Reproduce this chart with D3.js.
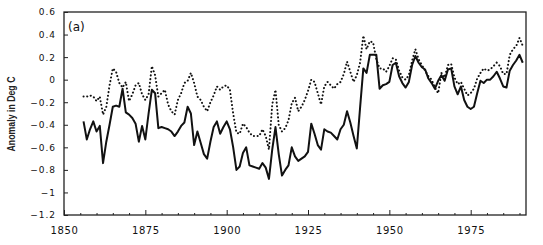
<!DOCTYPE html>
<html>
<head>
<meta charset="utf-8">
<script src="https://cdn.jsdelivr.net/npm/d3@7"></script>
<style>
  body { margin: 0; background: #fff; }
  svg { display: block; }
  .tick text { font-family: "DejaVu Sans", sans-serif; fill: #111; }
</style>
</head>
<body>
<div id="chart"></div>
<script>
// annual anomalies (deg C)
var years = d3.range(1856, 1992);
var solidValues = [
  -0.37,-0.53,-0.44,-0.37,-0.46,-0.41,-0.74,-0.55,-0.40,-0.24,
  -0.23,-0.24,-0.08,-0.29,-0.31,-0.34,-0.39,-0.55,-0.41,-0.53,
  -0.30,-0.09,-0.12,-0.43,-0.42,-0.43,-0.44,-0.46,-0.50,-0.46,
  -0.41,-0.38,-0.24,-0.30,-0.58,-0.46,-0.56,-0.66,-0.70,-0.55,
  -0.42,-0.37,-0.48,-0.42,-0.37,-0.44,-0.60,-0.80,-0.77,-0.65,
  -0.60,-0.76,-0.77,-0.78,-0.79,-0.74,-0.78,-0.88,-0.62,-0.42,
  -0.66,-0.85,-0.80,-0.76,-0.60,-0.68,-0.72,-0.70,-0.68,-0.64,
  -0.39,-0.48,-0.58,-0.62,-0.44,-0.46,-0.47,-0.50,-0.53,-0.44,
  -0.40,-0.28,-0.38,-0.50,-0.61,-0.25,0.10,0.06,0.22,0.22,
  0.22,-0.08,-0.05,-0.04,-0.02,0.13,0.15,0.03,-0.03,-0.07,
  -0.02,0.13,0.21,0.15,0.11,0.09,0.01,-0.03,-0.08,-0.01,
  0.04,-0.01,0.09,0.10,-0.06,-0.13,-0.06,-0.18,-0.24,-0.26,
  -0.24,-0.12,-0.01,-0.03,0.00,0.00,0.03,0.07,0.01,-0.06,
  -0.07,0.08,0.13,0.17,0.22,0.15
];
var dottedValues = [
  -0.15,-0.15,-0.14,-0.15,-0.19,-0.15,-0.31,-0.24,-0.05,0.10,
  0.07,-0.03,-0.07,-0.02,-0.19,-0.13,-0.05,-0.03,-0.13,-0.18,
  -0.13,0.12,0.04,-0.15,-0.12,-0.09,-0.22,-0.28,-0.31,-0.18,
  -0.12,-0.03,-0.01,0.06,-0.03,-0.15,-0.18,-0.24,-0.28,-0.20,
  -0.14,-0.06,-0.09,-0.06,-0.05,-0.09,-0.30,-0.47,-0.48,-0.39,
  -0.42,-0.47,-0.50,-0.50,-0.50,-0.44,-0.50,-0.62,-0.22,-0.09,
  -0.40,-0.46,-0.43,-0.36,-0.21,-0.16,-0.28,-0.24,-0.18,-0.10,
  0.00,-0.02,-0.12,-0.22,-0.06,-0.02,-0.05,-0.08,-0.04,-0.02,
  0.05,0.16,0.07,-0.02,0.04,0.15,0.39,0.27,0.34,0.33,
  0.18,0.10,0.10,0.07,0.12,0.19,0.18,0.08,0.02,0.00,
  0.04,0.17,0.27,0.18,0.13,0.08,0.03,0.00,-0.07,-0.12,
  0.06,0.02,0.13,0.14,0.02,-0.04,-0.02,-0.08,-0.14,-0.12,
  -0.08,0.01,0.06,0.10,0.08,0.09,0.12,0.15,0.12,0.05,
  0.05,0.22,0.27,0.30,0.37,0.30
];
var xTicks = [1850, 1875, 1900, 1925, 1950, 1975];
var yTicks = [0.6, 0.4, 0.2, 0, -0.2, -0.4, -0.6, -0.8, -1, -1.2];
var yTickLabels = ["0.6","0.4","0.2","0","\u22120.2","\u22120.4","\u22120.6","\u22120.8","\u22121","\u22121.2"];

var w = 543, h = 245;
var plotLeft = 64, plotRight = 526, plotTop = 12, plotBottom = 215;

var svg = d3.select("#chart").append("svg")
    .attr("width", w).attr("height", h);

var xScale = d3.scaleLinear().domain([1850, 1992]).range([plotLeft, plotRight]);
var yScale = d3.scaleLinear().domain([-1.2, 0.6]).range([plotBottom, plotTop]);

// frame
svg.append("rect")
    .attr("x", plotLeft).attr("y", plotTop)
    .attr("width", plotRight - plotLeft).attr("height", plotBottom - plotTop)
    .attr("fill", "none").attr("stroke", "#222").attr("stroke-width", 1.3);

// minor x ticks every 5 years
var minorX = d3.range(1855, 1992, 5).filter(function(y){ return y % 25 != 0; });
svg.append("g")
    .attr("transform", "translate(0," + plotBottom + ")")
    .call(d3.axisBottom(xScale).tickValues(minorX).tickSize(-2).tickFormat(""))
    .call(function(g){ g.select(".domain").remove(); g.selectAll("line").attr("stroke", "#222"); });

var xAxis = d3.axisBottom(xScale)
    .tickValues(xTicks)
    .tickSize(-5)
    .tickPadding(12)
    .tickFormat(d3.format("d"));
svg.append("g")
    .attr("transform", "translate(0," + plotBottom + ")")
    .call(xAxis)
    .call(function(g){
      g.select(".domain").remove();
      g.selectAll("line").attr("stroke", "#222");
      g.selectAll("text").attr("font-size", 10).attr("letter-spacing", 0.6);
    });

var yAxis = d3.axisLeft(yScale)
    .tickValues(yTicks)
    .tickSize(-4)
    .tickPadding(8)
    .tickFormat(function(d, i){ return yTickLabels[i]; });
svg.append("g")
    .attr("transform", "translate(" + plotLeft + ",0)")
    .call(yAxis)
    .call(function(g){
      g.select(".domain").remove();
      g.selectAll("line").attr("stroke", "#222");
      g.selectAll("text").attr("font-size", 9).attr("letter-spacing", 1);
    });

var line = d3.line()
    .x(function(d){ return xScale(d[0]); })
    .y(function(d){ return yScale(d[1]); });

svg.append("path")
    .datum(years.map(function(y, i){ return [y, dottedValues[i]]; }))
    .attr("d", line)
    .attr("fill", "none")
    .attr("stroke", "#111")
    .attr("stroke-width", 2)
    .attr("stroke-linecap", "round")
    .attr("stroke-dasharray", "0.1,3.6");

svg.append("path")
    .datum(years.map(function(y, i){ return [y, solidValues[i]]; }))
    .attr("d", line)
    .attr("fill", "none")
    .attr("stroke", "#111")
    .attr("stroke-width", 2)
    .attr("stroke-linejoin", "round");

svg.append("text")
    .attr("x", 68).attr("y", 31)
    .attr("font-family", "DejaVu Sans, sans-serif")
    .attr("font-size", 12)
    .attr("fill", "#111")
    .text("(a)");

svg.append("text")
    .attr("transform", "translate(15," + 114 + ") rotate(-90)")
    .attr("text-anchor", "middle")
    .attr("font-family", "Liberation Sans Narrow, Liberation Sans, sans-serif")
    .attr("font-size", 10)
    .attr("font-weight", "bold")
    .attr("fill", "#222")
    .attr("textLength", 75)
    .attr("lengthAdjust", "spacingAndGlyphs")
    .text("Anomaly in Deg C");
</script>
</body>
</html>
